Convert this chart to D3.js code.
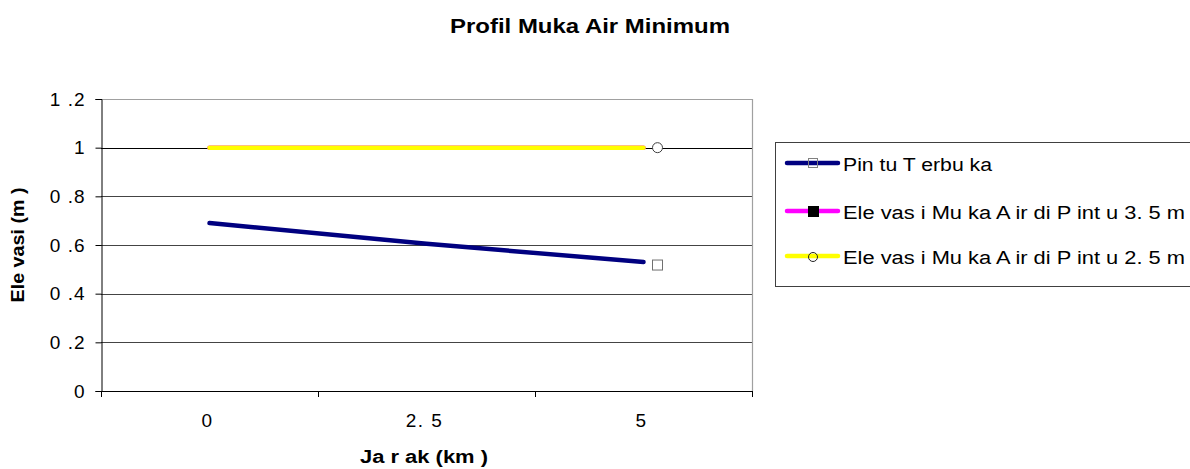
<!DOCTYPE html>
<html>
<head>
<meta charset="utf-8">
<script src="https://cdn.jsdelivr.net/npm/d3@7"></script>
<style>
  body { margin: 0; background: #fff; }
  svg { display: block; font-family: "Liberation Sans", Arial, sans-serif; }
</style>
</head>
<body>
<svg id="chart" width="1190" height="469"></svg>
<script>
const categories = ["0", "2.5", "5"];
const xTickLabels = ["0", "2. 5", "5"];
const yTicks = [0, 0.2, 0.4, 0.6, 0.8, 1, 1.2];
const yTickLabels = ["0", "0 .2", "0 .4", "0 .6", "0 .8", "1", "1 .2"];
const pintuTerbuka = [0.69, 0.605, 0.53];
const pintu35 = [1, 1, 1];
const pintu25 = [1, 1, 1];
const seriesNames = ["Pin tu T erbu ka", "Ele vas i Mu ka A ir  di P int u 3. 5 m", "Ele vas i Mu ka A ir  di P int u 2. 5 m"];

const svg = d3.select("#chart");
const plot = { left: 101, right: 752, top: 99, bottom: 391 };

const x = d3.scaleBand().domain(categories).range([plot.left, plot.right]);
const y = d3.scaleLinear().domain([0, 1.2]).range([plot.bottom, plot.top]);

// gridlines
svg.append("g").selectAll("line").data(yTicks.filter(d => d > 0 && d < 1.2)).join("line")
  .attr("x1", plot.left).attr("x2", plot.right)
  .attr("y1", d => Math.round(y(d)) + 0.5).attr("y2", d => Math.round(y(d)) + 0.5)
  .attr("stroke", d => d === 1 ? "#000" : "#444").attr("stroke-width", 1);

// plot border (top and right, gray)
svg.append("line").attr("x1", plot.left).attr("x2", plot.right + 0.5)
  .attr("y1", plot.top + 0.5).attr("y2", plot.top + 0.5).attr("stroke", "#a0a0a0").attr("stroke-width", 1.2);
svg.append("line").attr("x1", plot.right + 0.5).attr("x2", plot.right + 0.5)
  .attr("y1", plot.top).attr("y2", plot.bottom).attr("stroke", "#a0a0a0").attr("stroke-width", 1.2);

// Y axis
const yAxis = d3.axisLeft(y).tickValues(yTicks).tickSize(6).tickPadding(10)
  .tickFormat((d, i) => yTickLabels[i]);
const gy = svg.append("g").attr("transform", `translate(${plot.left + 0.5},0)`).call(yAxis);
gy.attr("font-size", 19).attr("font-family", "'Liberation Sans', Arial, sans-serif");
gy.select(".domain").attr("stroke", "#000");
gy.selectAll(".tick line").attr("stroke", "#000");
gy.selectAll(".tick text").attr("font-size", 19).attr("fill", "#000").attr("letter-spacing", 1);

// X axis: ticks at band boundaries
const boundaries = categories.map(c => x(c)).concat([x.range()[1]]);
const gx = svg.append("g");
gx.append("line").attr("x1", plot.left).attr("x2", plot.right + 1)
  .attr("y1", plot.bottom + 0.5).attr("y2", plot.bottom + 0.5).attr("stroke", "#000");
gx.selectAll("line.tk").data(boundaries).join("line").attr("class", "tk")
  .attr("x1", d => Math.round(d) + 0.5).attr("x2", d => Math.round(d) + 0.5)
  .attr("y1", plot.bottom).attr("y2", plot.bottom + 6).attr("stroke", "#000");
gx.selectAll("text").data(categories).join("text")
  .attr("x", d => x(d) + x.bandwidth() / 2 - 2).attr("y", 427)
  .attr("text-anchor", "middle").attr("font-size", 19).attr("fill", "#000")
  .attr("letter-spacing", 1.5)
  .text((d, i) => xTickLabels[i]);

// axis titles
svg.append("text").attr("x", 424).attr("y", 463).attr("text-anchor", "middle")
  .attr("font-size", 18).attr("font-weight", "bold")
  .attr("textLength", 128).attr("lengthAdjust", "spacingAndGlyphs").text("Ja r ak  (km )");
svg.append("text").attr("transform", "translate(24,245) rotate(-90)").attr("text-anchor", "middle")
  .attr("font-size", 18).attr("font-weight", "bold")
  .attr("textLength", 115).attr("lengthAdjust", "spacingAndGlyphs").text("Ele vasi  (m )");

// title
svg.append("text").attr("x", 590).attr("y", 33).attr("text-anchor", "middle")
  .attr("font-size", 21).attr("font-weight", "bold")
  .attr("textLength", 280).attr("lengthAdjust", "spacingAndGlyphs").text("Profil Muka Air Minimum");

// lines
const line = d3.line().x((d, i) => x(categories[i]) + x.bandwidth() / 2).y(d => y(d));
const series = [
  { values: pintuTerbuka, color: "#000080", marker: "square", textLen: 149 },
  { values: pintu35, color: "#ff00ff", marker: "filled", textLen: 342 },
  { values: pintu25, color: "#ffff00", marker: "circle", textLen: 342 }
];
svg.append("g").selectAll("path").data(series).join("path")
  .attr("d", d => line(d.values)).attr("fill", "none")
  .attr("stroke", d => d.color).attr("stroke-width", 4.5)
  .attr("stroke-linecap", "round").attr("stroke-linejoin", "round");

// end markers (offset right of the last point, as in the reference)
const lastCx = x(categories[2]) + x.bandwidth() / 2 + 14;
svg.append("rect").attr("x", lastCx - 5).attr("y", y(pintuTerbuka[2]) - 2)
  .attr("width", 10).attr("height", 10).attr("fill", "#fff").attr("stroke", "#707070").attr("stroke-width", 1);
svg.append("circle").attr("cx", lastCx).attr("cy", y(pintu25[2]))
  .attr("r", 5).attr("fill", "#fff").attr("stroke", "#404040").attr("stroke-width", 1);

// legend
const lg = svg.append("g");
lg.append("rect").attr("x", 775.5).attr("y", 142.5).attr("width", 430).attr("height", 144)
  .attr("fill", "#fff").attr("stroke", "#404040").attr("stroke-width", 1);
const rowY = [163, 211, 256];
series.forEach((s, i) => {
  const cy = rowY[i];
  lg.append("line").attr("x1", 787).attr("x2", 838).attr("y1", cy).attr("y2", cy)
    .attr("stroke", s.color).attr("stroke-width", 4.5).attr("stroke-linecap", "round");
  if (s.marker === "square") {
    lg.append("rect").attr("x", 808.5).attr("y", cy - 4.5).attr("width", 9).attr("height", 9)
      .attr("fill", "none").attr("stroke", "#808080");
  } else if (s.marker === "filled") {
    lg.append("rect").attr("x", 808).attr("y", cy - 5).attr("width", 11).attr("height", 11).attr("fill", "#000");
  } else {
    lg.append("circle").attr("cx", 813).attr("cy", cy + 1).attr("r", 4.5)
      .attr("fill", "none").attr("stroke", "#222").attr("stroke-width", 1);
  }
  lg.append("text").attr("x", 843).attr("y", cy + 8).attr("font-size", 18).attr("fill", "#000")
    .attr("textLength", s.textLen).attr("lengthAdjust", "spacingAndGlyphs")
    .text(seriesNames[i]);
});
</script>
</body>
</html>
